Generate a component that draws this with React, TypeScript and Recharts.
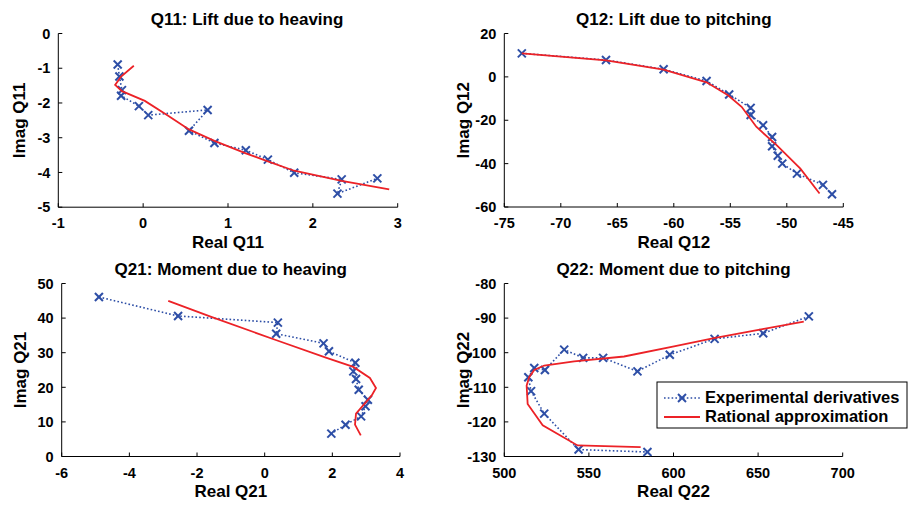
import React from 'react';
import { ScatterChart, Scatter, XAxis, YAxis } from 'recharts';

// Q11: lift due to heaving
const q11ExpReal = [-0.3, -0.28, -0.25, -0.26, -0.05, 0.06, 0.76, 0.54, 0.84, 1.21, 1.47, 1.78, 2.34, 2.29, 2.76];
const q11ExpImag = [-0.89, -1.24, -1.63, -1.79, -2.09, -2.35, -2.2, -2.8, -3.15, -3.36, -3.63, -4.01, -4.2, -4.61, -4.17];
const q11FitReal = [-0.11, -0.26, -0.33, -0.25, 0.02, 0.29, 0.54, 0.84, 1.21, 1.47, 1.78, 2.34, 2.9];
const q11FitImag = [-0.93, -1.24, -1.48, -1.66, -1.94, -2.36, -2.76, -3.09, -3.45, -3.68, -3.95, -4.24, -4.49];

// Q12: lift due to pitching
const q12ExpReal = [-73.45, -66.0, -60.9, -57.1, -55.1, -53.2, -53.2, -52.1, -51.3, -51.3, -50.8, -50.4, -49.1, -46.8, -46.0];
const q12ExpImag = [10.85, 7.8, 3.5, -1.9, -8.1, -14.3, -17.6, -22.3, -27.7, -32.0, -36.4, -40.0, -44.6, -49.8, -54.1];
const q12FitReal = [-73.45, -66.0, -60.9, -57.1, -55.2, -54.0, -52.7, -50.9, -48.8, -47.1];
const q12FitImag = [10.85, 7.6, 3.3, -2.5, -8.5, -13.8, -23.0, -31.5, -42.3, -53.8];

// Q21: moment due to heaving
const q21ExpReal = [-4.9, -2.56, 0.39, 0.34, 1.74, 1.9, 2.68, 2.62, 2.7, 2.78, 3.05, 2.98, 2.85, 2.39, 1.97];
const q21ExpImag = [46.1, 40.6, 38.7, 35.5, 32.7, 30.4, 27.1, 24.6, 22.4, 19.3, 16.4, 14.5, 11.6, 9.2, 6.6];
const q21FitReal = [-2.85, -1.62, 0.35, 1.83, 2.62, 3.11, 3.29, 3.16, 2.7, 2.67, 2.84];
const q21FitImag = [45.0, 40.5, 33.6, 28.5, 25.9, 22.7, 19.8, 17.6, 12.4, 9.2, 6.1];

// Q22: moment due to pitching
const q22ExpReal = [680, 653, 624.3, 597.8, 578.7, 558.4, 546.6, 535.4, 524, 517.7, 514.2, 515.8, 523.6, 543.9, 584.6];
const q22ExpImag = [-89.5, -94.4, -96.0, -100.6, -105.4, -101.5, -101.5, -99.1, -105.0, -104.4, -107.1, -111.1, -117.6, -128.0, -128.7];
const q22FitReal = [677, 653.4, 623.9, 600.3, 570.8, 541.3, 523.6, 517.7, 514.7, 513.2, 513.8, 522.7, 543.3, 580.6];
const q22FitImag = [-91.0, -93.1, -95.8, -98.2, -101.1, -102.5, -103.7, -105.0, -107.1, -109.5, -114.8, -121.0, -126.8, -127.3];

const q11XTicks = [-1, 0, 1, 2, 3];
const q11YTicks = [-5, -4, -3, -2, -1, 0];
const q12XTicks = [-75, -70, -65, -60, -55, -50, -45];
const q12YTicks = [-60, -40, -20, 0, 20];
const q21XTicks = [-6, -4, -2, 0, 2, 4];
const q21YTicks = [0, 10, 20, 30, 40, 50];
const q22XTicks = [500, 550, 600, 650, 700];
const q22YTicks = [-130, -120, -110, -100, -90, -80];

const legendNames = ['Experimental derivatives', 'Rational approximation'];

const BLUE = '#2d4ea6';
const RED = '#ec2227';
const FONT = '"Liberation Sans", Arial, Helvetica, sans-serif';
const TICK_LEN = 4;

type Pt = { x: number; y: number };
const zip = (xs: number[], ys: number[]): Pt[] => xs.map((x, i) => ({ x, y: ys[i] }));

const XMark = (props: any) => {
  const { cx, cy } = props;
  if (cx == null || cy == null) return <g />;
  const s = 4;
  return (
    <g stroke={BLUE} strokeWidth={2}>
      <line x1={cx - s} y1={cy - s} x2={cx + s} y2={cy + s} />
      <line x1={cx - s} y1={cy + s} x2={cx + s} y2={cy - s} />
    </g>
  );
};
const NoMark = () => <g />;

const tickText = { fontFamily: FONT, fontWeight: 700, fontSize: 14.5, fill: '#000' };

const BottomTick = (props: any) => {
  const { x, y, payload } = props;
  return (
    <g>
      <line x1={x} y1={y} x2={x} y2={y - TICK_LEN} stroke="#000" />
      <text x={x} y={y + 21} textAnchor="middle" {...tickText}>{payload.value}</text>
    </g>
  );
};
const TopTick = (props: any) => (
  <line x1={props.x} y1={props.y} x2={props.x} y2={props.y + TICK_LEN} stroke="#000" />
);
const LeftTick = (props: any) => {
  const { x, y, payload } = props;
  return (
    <g>
      <line x1={x} y1={y} x2={x + TICK_LEN} y2={y} stroke="#000" />
      <text x={x - 8} y={y + 5.2} textAnchor="end" {...tickText}>{payload.value}</text>
    </g>
  );
};
const RightTick = (props: any) => (
  <line x1={props.x} y1={props.y} x2={props.x - TICK_LEN} y2={props.y} stroke="#000" />
);

interface Box { left: number; top: number; right: number; bottom: number }
interface Area { x: number; y: number; w: number; h: number }

interface PanelProps {
  box: Box;
  area: Area;
  xTicks: number[];
  yTicks: number[];
  exp: Pt[];
  fit: Pt[];
}

const Panel = ({ box, area, xTicks, yTicks, exp, fit }: PanelProps) => {
  const xDomain = [xTicks[0], xTicks[xTicks.length - 1]];
  const yDomain = [yTicks[0], yTicks[yTicks.length - 1]];
  return (
    <div style={{ position: 'absolute', left: area.x, top: area.y }}>
      <ScatterChart
        width={area.w}
        height={area.h}
        margin={{ top: box.top - area.y, right: area.x + area.w - box.right, bottom: 0, left: 0 }}
      >
        <XAxis
          type="number"
          dataKey="x"
          domain={xDomain}
          ticks={xTicks}
          interval={0}
          allowDataOverflow
          height={area.y + area.h - box.bottom}
          tickSize={0}
          tickMargin={0}
          tickLine={false}
          axisLine={{ stroke: '#000' }}
          tick={<BottomTick />}
        />
        <XAxis
          xAxisId="top"
          orientation="top"
          type="number"
          domain={xDomain}
          ticks={xTicks}
          interval={0}
          allowDataOverflow
          height={0}
          tickSize={0}
          tickMargin={0}
          tickLine={false}
          axisLine={{ stroke: '#000' }}
          tick={<TopTick />}
        />
        <YAxis
          type="number"
          dataKey="y"
          domain={yDomain}
          ticks={yTicks}
          interval={0}
          allowDataOverflow
          width={box.left - area.x}
          tickSize={0}
          tickMargin={0}
          tickLine={false}
          axisLine={{ stroke: '#000' }}
          tick={<LeftTick />}
        />
        <YAxis
          yAxisId="right"
          orientation="right"
          type="number"
          domain={yDomain}
          ticks={yTicks}
          interval={0}
          allowDataOverflow
          width={0}
          tickSize={0}
          tickMargin={0}
          tickLine={false}
          axisLine={{ stroke: '#000' }}
          tick={<RightTick />}
        />
        <Scatter
          data={exp}
          line={{ stroke: BLUE, strokeWidth: 1.6, strokeDasharray: '1.6 2.2' }}
          lineType="joint"
          shape={<XMark />}
          isAnimationActive={false}
        />
        <Scatter
          data={fit}
          line={{ stroke: RED, strokeWidth: 1.8 }}
          lineType="joint"
          shape={<NoMark />}
          isAnimationActive={false}
        />
      </ScatterChart>
    </div>
  );
};

const boxes: Box[] = [
  { left: 58.3, top: 33.5, right: 397.7, bottom: 207.2 },
  { left: 504.3, top: 33.5, right: 843.3, bottom: 207 },
  { left: 61.7, top: 283.5, right: 400, bottom: 456.5 },
  { left: 504.3, top: 283.5, right: 842.7, bottom: 456.5 },
];
const areas: Area[] = [
  { x: 0, y: 0, w: 454, h: 253 },
  { x: 454, y: 0, w: 455, h: 253 },
  { x: 0, y: 253, w: 454, h: 254 },
  { x: 454, y: 253, w: 455, h: 254 },
];
const titles = ['Q11: Lift due to heaving', 'Q12: Lift due to pitching', 'Q21: Moment due to heaving', 'Q22: Moment due to pitching'];
const titleX = [247, 673.8, 230.8, 673.5];
const xLabels = ['Real Q11', 'Real Q12', 'Real Q21', 'Real Q22'];
const yLabels = ['Imag Q11', 'Imag Q12', 'Imag Q21', 'Imag Q22'];
const yLabelX = [19, 463, 20, 463];

const labelText = { fontFamily: FONT, fontWeight: 700, fontSize: 17, fill: '#000' };

export default function App() {
  const series = [
    { exp: zip(q11ExpReal, q11ExpImag), fit: zip(q11FitReal, q11FitImag), xTicks: q11XTicks, yTicks: q11YTicks },
    { exp: zip(q12ExpReal, q12ExpImag), fit: zip(q12FitReal, q12FitImag), xTicks: q12XTicks, yTicks: q12YTicks },
    { exp: zip(q21ExpReal, q21ExpImag), fit: zip(q21FitReal, q21FitImag), xTicks: q21XTicks, yTicks: q21YTicks },
    { exp: zip(q22ExpReal, q22ExpImag), fit: zip(q22FitReal, q22FitImag), xTicks: q22XTicks, yTicks: q22YTicks },
  ];

  return (
    <div style={{ position: 'absolute', left: 0, top: 0, width: 909, height: 507, background: '#fff', overflow: 'hidden' }}>
      {series.map((s, i) => (
        <Panel key={i} box={boxes[i]} area={areas[i]} xTicks={s.xTicks} yTicks={s.yTicks} exp={s.exp} fit={s.fit} />
      ))}
      <svg width={909} height={507} style={{ position: 'absolute', left: 0, top: 0, pointerEvents: 'none' }}>
        {boxes.map((b, i) => {
          const cx = (b.left + b.right) / 2;
          const cy = (b.top + b.bottom) / 2;
          const row = i < 2 ? 0 : 1;
          return (
            <g key={i}>
              <text x={titleX[i]} y={row === 0 ? 25 : 275} textAnchor="middle" {...labelText}>{titles[i]}</text>
              <text x={cx} y={row === 0 ? 248 : 497} textAnchor="middle" {...labelText}>{xLabels[i]}</text>
              <text transform={`translate(${yLabelX[i] + 6},${cy}) rotate(-90)`} textAnchor="middle" {...labelText}>
                {yLabels[i]}
              </text>
            </g>
          );
        })}
        <g>
          <rect x={657} y={382} width={250} height={46} fill="#fff" stroke="#000" strokeWidth={1} />
          <line x1={664} y1={398} x2={700} y2={398} stroke={BLUE} strokeWidth={1.6} strokeDasharray="1.6 2.2" />
          <g stroke={BLUE} strokeWidth={2}>
            <line x1={678} y1={394} x2={686} y2={402} />
            <line x1={678} y1={402} x2={686} y2={394} />
          </g>
          <text x={705} y={402.5} fontFamily={FONT} fontWeight={700} fontSize={16.5} fill="#000">{legendNames[0]}</text>
          <line x1={664} y1={417} x2={700} y2={417} stroke={RED} strokeWidth={1.8} />
          <text x={705} y={421.5} fontFamily={FONT} fontWeight={700} fontSize={16.5} fill="#000">{legendNames[1]}</text>
        </g>
      </svg>
    </div>
  );
}
